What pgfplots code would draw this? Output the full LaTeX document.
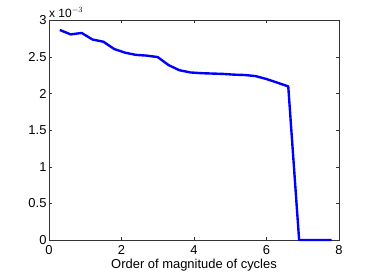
\documentclass[border=0pt]{standalone}
\usepackage{pgfplots}
\pgfplotsset{compat=1.18}
\usepackage{fontspec}
\setmainfont{Liberation Sans}
\begin{document}
\begin{tikzpicture}[x=1bp,y=1bp]
\path[use as bounding box] (-49bp,-32bp) rectangle (325bp,240bp);
\begin{axis}[
  at={(0,0)}, anchor=south west,
  scale only axis, width=290bp, height=219.5bp,
  xmin=0, xmax=8, ymin=0, ymax=3,
  xtick={0,2,4,6,8}, ytick={0,0.5,1,1.5,2,2.5,3},
  yticklabels={0,0.5,1,1.5,2,2.5,3},
  tick align=inside, tick pos=both,
  major tick length=3bp,
  axis line style={black!80, line width=0.6pt},
  every tick/.style={black!80, line width=0.5pt},
  /pgf/number format/assume math mode=true,
  tick label style={font=\fontsize{13}{14}\selectfont, text=black},
  xlabel={Order of magnitude of cycles},
  xlabel style={font=\fontsize{13}{14}\selectfont, at={(axis description cs:0.5,0)}, anchor=base, yshift=-28bp, inner sep=0pt},
  xticklabel style={anchor=base, yshift=-14bp, inner sep=0pt},
  yticklabel style={xshift=1bp},
  clip=false,
]
\addplot[blue, line width=2.4pt, line join=round] coordinates {
(0.3,2.87) (0.6,2.81) (0.9,2.83) (1.2,2.74) (1.5,2.71) (1.8,2.61)
(2.1,2.56) (2.4,2.53) (2.7,2.52) (3.0,2.50) (3.3,2.39) (3.6,2.32)
(3.9,2.29) (4.2,2.28) (4.5,2.275) (4.8,2.27) (5.1,2.26) (5.4,2.255)
(5.7,2.24) (6.0,2.20) (6.3,2.15) (6.6,2.10) (6.9,0) (7.2,0) (7.5,0) (7.8,0)
};
\node[anchor=south west, font=\fontsize{12}{13}\selectfont, inner sep=0pt] at (rel axis cs:0,1) [yshift=3bp] {x 10$^{-3}$};
\end{axis}
\end{tikzpicture}
\end{document}
